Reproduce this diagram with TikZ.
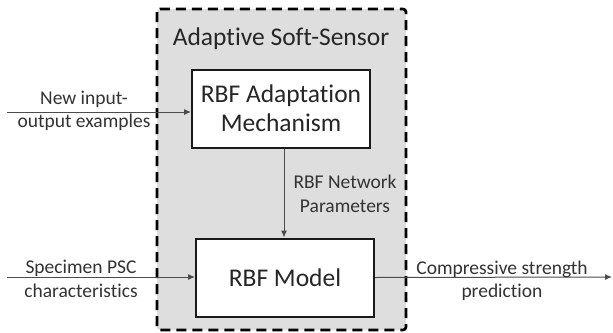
\documentclass[tikz,border=0pt]{standalone}
\usepackage{fontspec}
\setmainfont{Carlito}[Ligatures=NoCommon]
\usetikzlibrary{positioning}
\usetikzlibrary{arrows.meta}

\begin{document}
\begin{tikzpicture}[
  x=1pt, y=-1pt,
  blockbox/.style={draw=black!90, line width=2pt, fill=white, minimum width=178pt, minimum height=78pt, align=center, text=black!85, font=\fontsize{25.5}{29}\selectfont},
  sidetext/.style={align=center, text=black!80, font=\fontsize{19.5}{23.5}\selectfont},
  sigline/.style={draw=black!70, line width=1pt, -{Latex[length=7pt,width=6pt]}}
]
\useasboundingbox (0,0) rectangle (613,332);

% Soft-sensor frame (dashed, grey)
\draw[line width=2.6pt, dash pattern=on 10pt off 6pt, fill=black!13, rounded corners=3pt] (157,9) rectangle (406,330);
\node[text=black!85, font=\fontsize{25.5}{29}\selectfont] (title) at (281,39) {Adaptive Soft-Sensor};

% Blocks
\node[blockbox] (adapt) at (281,108.5) {RBF Adaptation\\Mechanism};
\node[blockbox] (model) at (285,277.5) {RBF Model};

% Free ends of the signals
\coordinate (inA) at (7,112);
\coordinate (inB) at (7,277);
\coordinate (outC) at (612,277);

% Signals
\draw[sigline] (inA) -- (inA -| adapt.west);
\draw[sigline] (inB) -- (inB -| model.west);
\draw[sigline] (adapt.south -| 284,0) -- (model.north -| 284,0);
\draw[sigline] (model.east) -- (outC);

% Labels
\node[sidetext] (lblA) at (84,111) {New input-\\output examples};
\node[sidetext] (lblB) at (81,279) {Specimen PSC\\characteristics};
\node[sidetext] (lblP) at (345,194) {RBF Network\\Parameters};
\node[sidetext] (lblC) at (502,281) {Compressive strength\\prediction};

\end{tikzpicture}
\end{document}
